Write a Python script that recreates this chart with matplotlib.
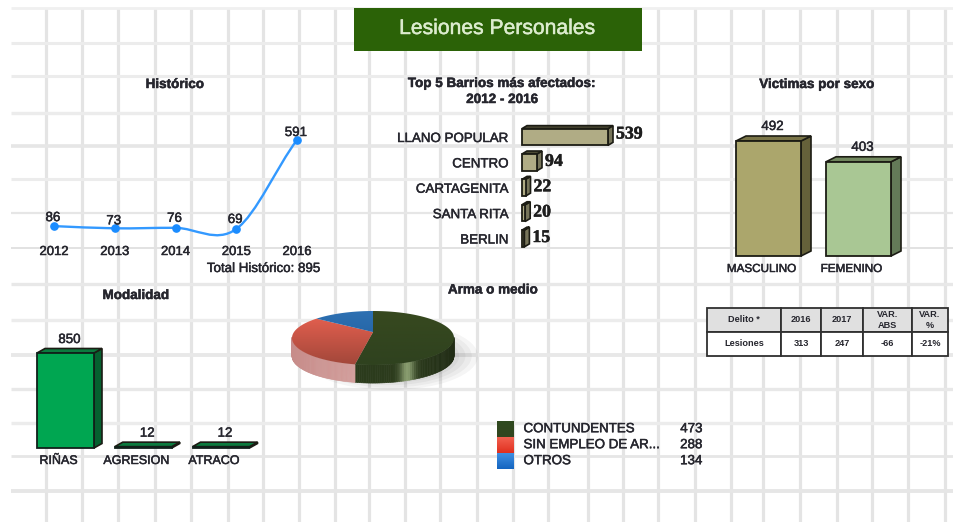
import numpy as np
import matplotlib
matplotlib.use("Agg")
import matplotlib.pyplot as plt
import matplotlib.patheffects as pe
from matplotlib.patches import Polygon, Rectangle, Ellipse, PathPatch
from matplotlib.path import Path
from matplotlib.colors import LinearSegmentedColormap
from matplotlib.text import Text
from matplotlib.transforms import IdentityTransform

plt.rcParams["font.family"] = ["Liberation Sans", "DejaVu Sans"]

# data
years = [2012, 2013, 2014, 2015, 2016]
historico = [86, 73, 76, 69, 591]

barrios = ["LLANO POPULAR", "CENTRO", "CARTAGENITA", "SANTA RITA", "BERLIN"]
barrios_vals = [539, 94, 22, 20, 15]

sexo = ["MASCULINO", "FEMENINO"]
sexo_vals = [492, 403]

modalidad = ["RIÑAS", "AGRESION", "ATRACO"]
modalidad_vals = [850, 12, 12]

arma = ["CONTUNDENTES", "SIN EMPLEO DE AR...", "OTROS"]
arma_vals = [473, 288, 134]

tabla_head = ["Delito *", "2016", "2017", "VAR.\nABS", "VAR.\n%"]
tabla_row = ["Lesiones", "313", "247", "-66", "-21%"]

W, H = 954, 522
TXT = "#26262e"
fig = plt.figure(figsize=(W / 100, H / 100), dpi=100, facecolor="white")


def ax_px(l, t, r, b, zorder=2):
    ax = fig.add_axes([l / W, 1 - b / H, (r - l) / W, (b - t) / H], zorder=zorder)
    ax.axis("off")
    return ax


def extrude(ax, bars, dx, dy, side, top, lw=1.2):
    # side and top faces, depth given in pixels
    for b in bars:
        x, y, w, h = b.get_x(), b.get_y(), b.get_width(), b.get_height()
        (x0, y0), (x1, y1) = ax.transData.transform([(x, y), (x + w, y + h)])
        x0, x1 = min(x0, x1), max(x0, x1)
        y0, y1 = min(y0, y1), max(y0, y1)
        s = [(x1, y0), (x1 + dx, y0 + dy), (x1 + dx, y1 + dy), (x1, y1)]
        t = [(x0, y1), (x0 + dx, y1 + dy), (x1 + dx, y1 + dy), (x1, y1)]
        for pts, c in ((s, side), (t, top)):
            ax.add_patch(Polygon(pts, closed=True, transform=IdentityTransform(),
                                 fc=c, ec="#1c1c14", lw=lw, clip_on=False, zorder=3))


# background sheet
bg = ax_px(0, 0, W, H, zorder=0)
bg.set_xlim(0, W)
bg.set_ylim(H, 0)
for x in [46, 82, 118, 155, 191, 228, 263, 299, 335, 369, 405, 440, 477, 513,
          548, 588, 623, 658, 695, 731, 763, 800, 837, 872, 908, 945]:
    bg.plot([x, x], [8, H], color="#e4e4e4", lw=2.3, solid_capstyle="butt", zorder=1)
for y, lw, c in [(8, 2.0, "#f0f0f0"), (43, 2.2, "#ececec"), (76, 2.2, "#ececec"),
                 (113, 2.4, "#ececec"), (146, 2.6, "#e6e6e6"), (179, 2.2, "#ececec"),
                 (213, 1.6, "#e6e6e6"), (248, 1.4, "#e2e2e2"), (284, 2.4, "#e8e8e8"),
                 (320, 2.4, "#ececec"), (355, 2.8, "#e8e8e8"), (389, 2.4, "#e8e8e8"),
                 (423, 2.4, "#ececec"), (456, 2.0, "#e6e6e6"), (491, 2.8, "#e6e6e6")]:
    bg.plot([11, W], [y, y], color=c, lw=lw, solid_capstyle="butt", zorder=1)

bg.add_patch(Rectangle((354, 8), 288, 43, fc="#2b6207", ec="none", zorder=2))
bg.text(497, 28.5, "Lesiones Personales", color="#dcecce", fontsize=15.2,
        ha="center", va="center", zorder=3)

for x, y, s in [(175, 85, "Histórico"), (136, 296, "Modalidad"),
                (502, 84, "Top 5 Barrios más afectados:"), (502, 100, "2012 - 2016"),
                (817, 85, "Victimas por sexo"), (493, 290.5, "Arma o medio")]:
    bg.text(x, y, s, fontsize=9.7, fontweight="bold", color=TXT, ha="center", va="center")
bg.text(264, 269, "Total Histórico: 895", fontsize=9.6, color=TXT, ha="center", va="center")

# pie shadow
for i in range(14):
    k = 1 - i / 14
    bg.add_patch(Ellipse((390, 356), 176 * k, 68 * k, fc="black", ec="none", alpha=0.04, zorder=2))

# Historico
ax = ax_px(54, 140, 297, 229)
ax.set_xlim(2012, 2016)
ax.set_ylim(69, 591)
xs = np.array(years, dtype=float)
ys = np.array(historico, dtype=float)
tang = np.gradient(ys, xs)
tang[-1] = (ys[-1] - ys[-2]) * 0.9
verts = [(xs[0], ys[0])]
codes = [Path.MOVETO]
for i in range(len(xs) - 1):
    verts += [(xs[i] + 1 / 3, ys[i] + tang[i] / 3),
              (xs[i + 1] - 1 / 3, ys[i + 1] - tang[i + 1] / 3),
              (xs[i + 1], ys[i + 1])]
    codes += [Path.CURVE4] * 3
ax.add_patch(PathPatch(Path(verts, codes), fc="none", ec="#3399ff", lw=1.7, clip_on=False))
ax.plot(years, historico, "o", ms=5.2, color="#1a8cff", clip_on=False, zorder=4)
for yr, v, off in zip(years, historico, [8, 7, 9, 9, 7]):
    ax.annotate(str(v), (yr, v), xytext=(-1, off), textcoords="offset pixels", fontsize=9.6,
                color=TXT, ha="center", va="center", zorder=5)
    ax.annotate(str(yr), (yr, 69), xytext=(0, -23), textcoords="offset pixels", fontsize=9.4,
                color=TXT, ha="center", va="center")

# Top 5 barrios
ax = ax_px(522, 137, 608, 238.5)
ax.set_xlim(0, 539)
ax.set_ylim(4, 0)
pos = np.arange(len(barrios))
bars = ax.barh(pos, barrios_vals, height=0.66, color="#b0ac85", edgecolor="#1c1c14", lw=1.3, clip_on=False, zorder=4)
extrude(ax, bars, 5, 3, "#77755a", "#4c4a34")
for p, name, v, off in zip(pos, barrios, barrios_vals, [3, 1, 1, 1, 1]):
    ax.annotate(name, (0, p), xytext=(-13, -2), textcoords="offset pixels", fontsize=9.6,
                color=TXT, ha="right", va="center")
    ax.annotate(str(v), (v, p), xytext=(8, off), textcoords="offset pixels", fontsize=12.8,
                fontweight="bold", family="Liberation Serif", color="#1e1e1e", ha="left", va="center")

# Victimas por sexo
ax = ax_px(768.5, 141, 858.5, 256)
ax.set_xlim(0, 1)
ax.set_ylim(0, 492)
pos = np.arange(len(sexo))
b1 = ax.bar(pos[:1], sexo_vals[:1], width=65 / 90, color="#aba66c", edgecolor="#1c1c14", lw=1.3, clip_on=False, zorder=4)
b2 = ax.bar(pos[1:], sexo_vals[1:], width=65 / 90, color="#a9c794", edgecolor="#1c1c14", lw=1.3, clip_on=False, zorder=4)
extrude(ax, b1, 10, 5, "#65613a", "#7a7548")
extrude(ax, b2, 10, 5, "#647a58", "#72895f")
for p, name, v in zip(pos, sexo, sexo_vals):
    ax.annotate(str(v), (p, v), xytext=(4, 14), textcoords="offset pixels", fontsize=9.6,
                color=TXT, ha="center", va="center")
    ax.annotate(name, (p, 0), xytext=(-7, -13), textcoords="offset pixels", fontsize=8.4,
                color=TXT, ha="center", va="center")

# Modalidad
ax = ax_px(65.5, 353, 221, 448)
ax.set_xlim(0, 2)
ax.set_ylim(0, 850)
pos = np.arange(len(modalidad))
bars = ax.bar(pos, modalidad_vals, width=0.733, color="#00a651", edgecolor="#10201a", lw=1.3, clip_on=False, zorder=4)
extrude(ax, bars, 8, 4.5, "#05602f", "#0b7a3e")
for p, name, v in zip(pos, modalidad, modalidad_vals):
    ax.annotate(str(v), (p, v), xytext=(4, 13), textcoords="offset pixels", fontsize=9.6,
                color=TXT, ha="center", va="center")
    ax.annotate(name, (p, 0), xytext=(-7, -13), textcoords="offset pixels", fontsize=9.0,
                color=TXT, ha="center", va="center")

# Arma o medio, pie with a fake 3d rim
ax = ax_px(292, 311, 454, 365, zorder=3)
ax.set_xlim(-1, 1)
ax.set_ylim(-1, 1)
fracs = np.array(arma_vals) / sum(arma_vals)
edges = np.concatenate([[0], np.cumsum(fracs)]) * 2 * np.pi
tilt = 0.22
depth = 0.67


def persp(a):
    # circle to ellipse with the centre pushed back, clockwise from twelve o'clock
    x, y = np.sin(a), np.cos(a)
    d = 1 + tilt * y
    return x * np.sqrt(1 - tilt ** 2) / d, (y + tilt) / d


def rim_color(i, x):
    if i == 0:
        glow = np.exp(-((x - 0.42) / 0.09) ** 2)
        base = np.array([0.17, 0.23, 0.11]) * (1 - 0.5 * max(x - 0.5, 0))
        return tuple(base + glow * np.array([0.36, 0.38, 0.32]))
    if i == 1:
        return tuple(np.array([0.78, 0.55, 0.54]) + (1 + x) * np.array([0.06, 0.09, 0.09]))
    return (0.12, 0.36, 0.62)


for i in range(3):
    a = np.linspace(edges[i], edges[i + 1], 150)
    for a0, a1 in zip(a[:-1], a[1:]):
        x0, y0 = persp(a0)
        x1, y1 = persp(a1)
        # rim visible on the lower half only
        if y0 > 0.03 and y1 > 0.03:
            continue
        c = rim_color(i, (x0 + x1) / 2)
        ax.add_patch(Polygon([(x0, y0), (x1, y1), (x1, y1 - depth), (x0, y0 - depth)],
                             fc=c, ec=c, lw=0.4, clip_on=False, zorder=2))

face_maps = [["#2f421f", "#37491f"], ["#a2473a", "#ea6251"], ["#1d5a9a", "#2d70b2"]]
for i in range(3):
    a = np.linspace(edges[i], edges[i + 1], 120)
    px, py = persp(a)
    pts = [(0, tilt)] + list(zip(px, py))
    clip = Polygon(pts, closed=True, fc="none", ec="none", transform=ax.transData)
    ax.add_patch(clip)
    cmap = LinearSegmentedColormap.from_list("f", face_maps[i])
    im = ax.imshow(np.linspace(1, 0, 64).reshape(-1, 1), extent=(-1, 1, -1, 1), aspect="auto",
                   cmap=cmap, origin="upper", zorder=3)
    im.set_clip_path(clip)
ax.set_xlim(-1, 1)
ax.set_ylim(-1, 1)

# pie legend
lg = ax_px(0, 0, W, H, zorder=2)
lg.set_xlim(0, W)
lg.set_ylim(H, 0)
swatch_maps = [["#2f4a20", "#33451f"], ["#f2604f", "#e0301f"], ["#3f8fe2", "#1565c0"]]
for i, (name, v) in enumerate(zip(arma, arma_vals)):
    y = 421 + i * 16
    cmap = LinearSegmentedColormap.from_list("s", swatch_maps[i])
    lg.imshow(np.linspace(0, 1, 32).reshape(-1, 1), extent=(497, 514, y + 16, y), aspect="auto", cmap=cmap)
    lg.text(523.5, y + 8.2, name, fontsize=9.6, color=TXT, ha="left", va="center")
    lg.text(702.5, y + 8.2, str(v), fontsize=9.6, color=TXT, ha="right", va="center")
lg.set_xlim(0, W)
lg.set_ylim(H, 0)

# table
ax = ax_px(707, 308, 948, 356)
col_w = np.array([74, 40, 42, 49, 36]) / 241
tb = ax.table(cellText=[tabla_head, tabla_row], colWidths=list(col_w), bbox=[0, 0, 1, 1], cellLoc="center")
tb.auto_set_font_size(False)
for (r, c), cell in tb.get_celld().items():
    cell.set_edgecolor("#303030")
    cell.set_linewidth(1.3)
    cell.set_facecolor("#e0e0e0" if r == 0 else "white")
    cell.PAD = 0.02
    t = cell.get_text()
    t.set_fontsize(6.6)
    t.set_fontweight("bold")
    t.set_color(TXT)
    t.set_linespacing(1.3)

# the source is a scan-like pdf export, text looks a bit heavier
for t in fig.findobj(Text):
    if t.get_text():
        t.set_path_effects([pe.withStroke(linewidth=0.35, foreground=t.get_color())])

fig.savefig("out.png")
